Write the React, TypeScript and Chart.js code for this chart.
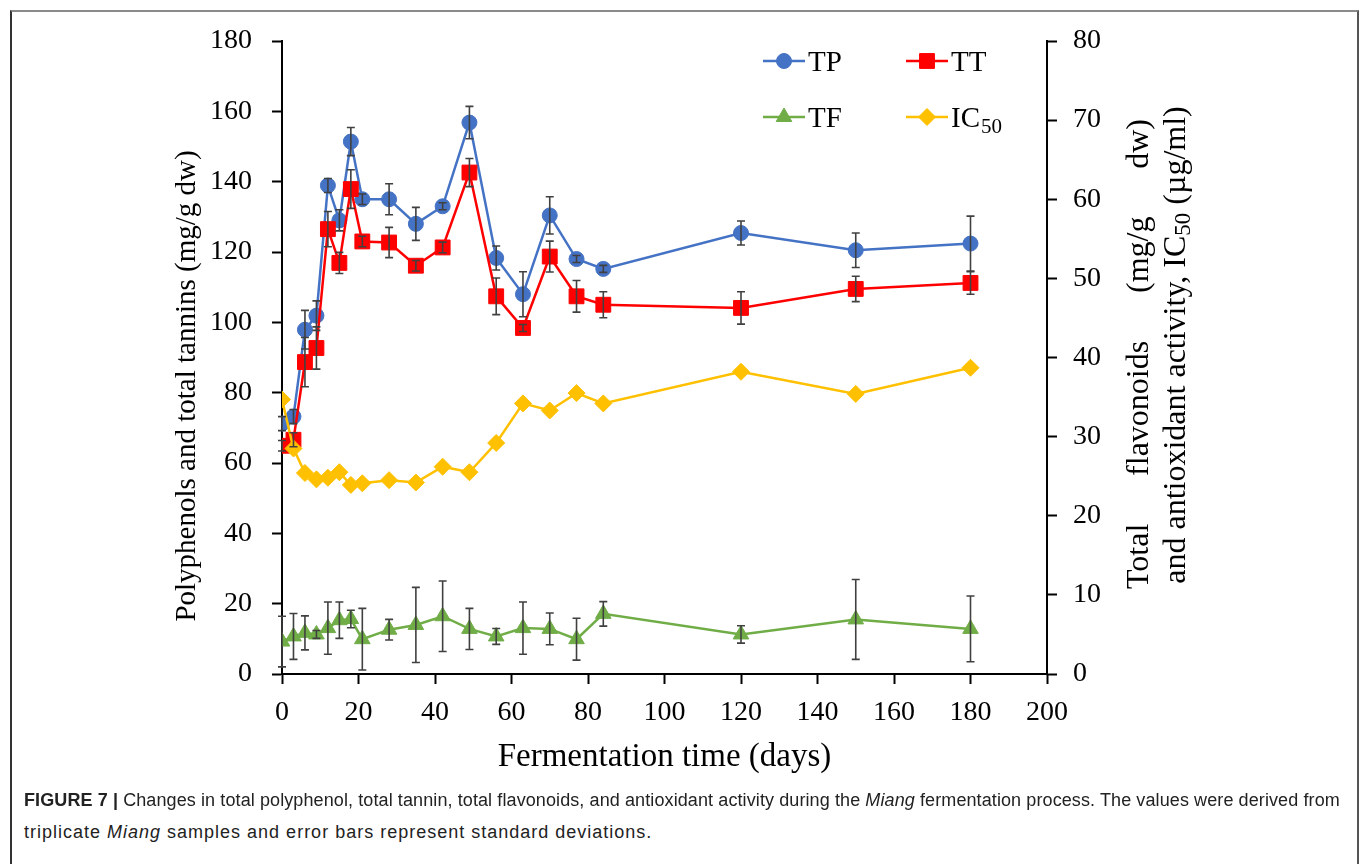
import React, { useEffect, useRef } from "react";
import { Chart, registerables } from "chart.js";
import { drawPoint } from "chart.js/helpers";
Chart.register(...registerables);

// ---- data ----
const days = [0, 3, 6, 9, 12, 15, 18, 21, 28, 35, 42, 49, 56, 63, 70, 77, 84, 120, 150, 180];
const tpValues = [71.2, 73.2, 97.9, 101.9, 138.9, 129.0, 151.4, 135.0, 135.0, 128.0, 133.0, 156.8, 118.3, 108.0, 130.4, 118.0, 115.2, 125.4, 120.5, 122.4];
const tpErrors = [2, 2, 5.5, 4.2, 2, 3, 4, 1.5, 4.4, 4.7, 1, 4.6, 3.4, 6.4, 5.3, 1, 1, 3.4, 4.9, 7.8];
const ttValues = [64.9, 66.6, 88.7, 92.7, 126.5, 116.9, 137.9, 123.0, 122.7, 116.1, 121.3, 142.6, 107.4, 98.4, 118.7, 107.4, 105.0, 104.1, 109.5, 111.2];
const ttErrors = [1.5, 2, 7, 6, 5, 3, 5.5, 1.5, 4.3, 1.5, 1.5, 4, 5.2, 1, 4.4, 4.5, 3.7, 4.6, 3.6, 3.2];
const tfValues = [4.1, 4.75, 5.2, 5.0, 5.8, 6.8, 6.95, 4.4, 5.6, 6.2, 7.3, 5.7, 4.75, 5.8, 5.7, 4.4, 7.6, 5.0, 6.9, 5.7];
const tfErrors = [3.2, 2.9, 2.15, 0.5, 3.3, 2.3, 1.1, 3.9, 1.3, 4.75, 4.45, 2.6, 1, 3.3, 2.0, 2.65, 1.55, 1.1, 5.05, 4.15];
const ic50Values = [34.7, 28.5, 25.4, 24.6, 24.8, 25.5, 23.9, 24.1, 24.5, 24.2, 26.2, 25.5, 29.2, 34.2, 33.3, 35.5, 34.2, 38.2, 35.4, 38.7];

const xTitle = "Fermentation time (days)";
const leftTitle = "Polyphenols and total tannins (mg/g dw)";
const rightTitle1Words = ["Total", "flavonoids", "(mg/g", "dw)"];
const rightTitle2Words = ["and", "antioxidant", "activity,", "IC|50", "(\u00b5g/ml)"];

const SERIF = "'Liberation Serif', 'Times New Roman', serif";

const COLORS = { tp: "#4472C4", tt: "#FF0000", tf: "#70AD47", ic: "#FFC000" };

const errorBarPlugin = {
  id: "errorBars",
  afterDatasetsDraw(chart: any) {
    const ctx = chart.ctx;
    ctx.save();
    ctx.strokeStyle = "#404040";
    ctx.lineWidth = 1.6;
    chart.data.datasets.forEach((ds: any, di: number) => {
      if (!ds.errors) return;
      const meta = chart.getDatasetMeta(di);
      const ys = chart.scales[meta.yAxisID];
      const xs = chart.scales[meta.xAxisID];
      ds.data.forEach((pt: any, i: number) => {
        const e = ds.errors[i];
        if (!e) return;
        const x = xs.getPixelForValue(pt.x);
        const y1 = ys.getPixelForValue(pt.y + e);
        const y2 = ys.getPixelForValue(pt.y - e);
        ctx.beginPath();
        ctx.moveTo(x, y1);
        ctx.lineTo(x, y2);
        ctx.moveTo(x - 4, y1);
        ctx.lineTo(x + 4, y1);
        ctx.moveTo(x - 4, y2);
        ctx.lineTo(x + 4, y2);
        ctx.stroke();
      });
    });
    ctx.restore();
  },
};

// draws words (rotated frame already set); if L given, spread words over L, else natural spacing; centered at 0
function drawWords(ctx: CanvasRenderingContext2D, words: string[], size: number, L?: number) {
  const big = `${size}px ${SERIF}`;
  const small = `${Math.round(size * 0.72)}px ${SERIF}`;
  ctx.font = big;
  const space = ctx.measureText(" ").width;
  const widths = words.map((w) => {
    if (w.includes("|")) {
      const [a, b] = w.split("|");
      ctx.font = big;
      const wa = ctx.measureText(a).width;
      ctx.font = small;
      return wa + ctx.measureText(b).width;
    }
    ctx.font = big;
    return ctx.measureText(w).width;
  });
  const total = widths.reduce((s, v) => s + v, 0);
  const len = L ?? total + space * (words.length - 1);
  const gap = (len - total) / (words.length - 1);
  let x = -len / 2;
  ctx.textAlign = "left";
  words.forEach((w, i) => {
    if (w.includes("|")) {
      const [a, b] = w.split("|");
      ctx.font = big;
      ctx.fillText(a, x, 0);
      const wa = ctx.measureText(a).width;
      ctx.font = small;
      ctx.fillText(b, x + wa, size * 0.22);
    } else {
      ctx.font = big;
      ctx.fillText(w, x, 0);
    }
    x += widths[i] + gap;
  });
}

const textPlugin = {
  id: "texts",
  afterDraw(chart: any) {
    const ctx = chart.ctx;
    const ca = chart.chartArea;
    ctx.save();
    ctx.fillStyle = "#000";
    // x title
    ctx.font = `33px ${SERIF}`;
    ctx.textAlign = "center";
    ctx.textBaseline = "middle";
    ctx.fillText(xTitle, (ca.left + ca.right) / 2, ca.bottom + 83);
    // left title
    ctx.save();
    ctx.translate(ca.left - 95, 386);
    ctx.rotate(-Math.PI / 2);
    ctx.font = `29px ${SERIF}`;
    ctx.fillText(leftTitle, 0, 0);
    ctx.restore();
    // right title line 1 (justified)
    ctx.save();
    ctx.translate(ca.right + 93, 354);
    ctx.rotate(-Math.PI / 2);
    drawWords(ctx, rightTitle1Words, 32, 470);
    ctx.restore();
    // right title line 2 (natural)
    ctx.save();
    ctx.translate(ca.right + 130, 345);
    ctx.rotate(-Math.PI / 2);
    drawWords(ctx, rightTitle2Words, 32);
    ctx.restore();

    // legend
    const entries = [
      { ds: 0, lx: 763, ly: 61 },
      { ds: 1, lx: 906, ly: 61 },
      { ds: 2, lx: 763, ly: 117 },
      { ds: 3, lx: 906, ly: 117 },
    ];
    entries.forEach((en) => {
      const ds: any = chart.data.datasets[en.ds];
      ctx.strokeStyle = ds.borderColor;
      ctx.lineWidth = 2.5;
      ctx.beginPath();
      ctx.moveTo(en.lx, en.ly);
      ctx.lineTo(en.lx + 42, en.ly);
      ctx.stroke();
      ctx.fillStyle = ds.backgroundColor;
      ctx.strokeStyle = ds.backgroundColor;
      ctx.lineWidth = 1;
      drawPoint(ctx, { pointStyle: ds.pointStyle, radius: ds.pointRadius, borderWidth: 1, rotation: 0 }, en.lx + 21, en.ly);
      ctx.fillStyle = "#000";
      ctx.textAlign = "left";
      ctx.textBaseline = "alphabetic";
      ctx.font = `29px ${SERIF}`;
      if (en.ds === 3) {
        ctx.fillText("IC", en.lx + 45, en.ly + 10);
        const w = ctx.measureText("IC").width;
        ctx.font = `21px ${SERIF}`;
        ctx.fillText("50", en.lx + 45 + w + 1, en.ly + 16);
      } else {
        ctx.fillText(ds.label, en.lx + 45, en.ly + 10);
      }
    });
    ctx.restore();
  },
};

export default function App() {
  const ref = useRef<HTMLCanvasElement | null>(null);
  useEffect(() => {
    if (!ref.current) return;
    const tickFont = { family: SERIF, size: 28 };
    const mk = (vals: number[]) => days.map((d, i) => ({ x: d, y: vals[i] }));
    const chart = new Chart(ref.current, {
      type: "line",
      data: {
        datasets: [
          { label: "TP", data: mk(tpValues), errors: tpErrors, yAxisID: "y", borderColor: COLORS.tp, backgroundColor: COLORS.tp, pointBackgroundColor: COLORS.tp, pointBorderColor: COLORS.tp, pointStyle: "circle", pointRadius: 7.5, pointBorderWidth: 1, borderWidth: 2.5, order: 4 } as any,
          { label: "TT", data: mk(ttValues), errors: ttErrors, yAxisID: "y", borderColor: COLORS.tt, backgroundColor: COLORS.tt, pointBackgroundColor: COLORS.tt, pointBorderColor: COLORS.tt, pointStyle: "rect", pointRadius: 10.5, pointBorderWidth: 1, borderWidth: 2.5, order: 3 } as any,
          { label: "TF", data: mk(tfValues), errors: tfErrors, yAxisID: "y2", borderColor: COLORS.tf, backgroundColor: COLORS.tf, pointBackgroundColor: COLORS.tf, pointBorderColor: COLORS.tf, pointStyle: "triangle", pointRadius: 9, pointBorderWidth: 1, borderWidth: 2.5, order: 2 } as any,
          { label: "IC50", data: mk(ic50Values), yAxisID: "y2", borderColor: COLORS.ic, backgroundColor: COLORS.ic, pointBackgroundColor: COLORS.ic, pointBorderColor: COLORS.ic, pointStyle: "rectRot", pointRadius: 8.5, pointBorderWidth: 1, borderWidth: 2.5, order: 1 } as any,
        ],
      },
      options: {
        animation: false,
        responsive: false,
        devicePixelRatio: 1,
        layout: { padding: { top: 41, left: 0, right: 0, bottom: 0 } },
        plugins: { legend: { display: false }, tooltip: { enabled: false } },
        scales: {
          x: {
            type: "linear",
            min: 0,
            max: 200,
            ticks: { stepSize: 20, font: tickFont, color: "#000", padding: 12, maxRotation: 0 },
            grid: { drawOnChartArea: false, drawTicks: true, tickLength: 10, tickWidth: 2, tickColor: "#000" },
            border: { display: true, color: "#000", width: 2 },
            afterFit: (s: any) => { s.height = 116; },
          },
          y: {
            position: "left",
            min: 0,
            max: 180,
            ticks: { stepSize: 20, font: tickFont, color: "#000", padding: 20 },
            grid: { drawOnChartArea: false, drawTicks: true, tickLength: 10, tickWidth: 2, tickColor: "#000" },
            border: { display: true, color: "#000", width: 2 },
            afterFit: (s: any) => { s.width = 282; },
          },
          y2: {
            position: "right",
            min: 0,
            max: 80,
            ticks: { stepSize: 10, font: tickFont, color: "#000", padding: 16 },
            grid: { drawOnChartArea: false, drawTicks: true, tickLength: 10, tickWidth: 2, tickColor: "#000" },
            border: { display: true, color: "#000", width: 2 },
            afterFit: (s: any) => { s.width = 313; },
          },
        },
      } as any,
      plugins: [errorBarPlugin, textPlugin],
    });
    return () => chart.destroy();
  }, []);

  const capStyle: React.CSSProperties = {
    position: "absolute",
    left: 24,
    whiteSpace: "nowrap",
    fontFamily: "'Liberation Sans', Arial, sans-serif",
    fontSize: 18,
    lineHeight: "32px",
    color: "#222",
  };

  return (
    <div style={{ position: "absolute", left: 0, top: 0, width: 1360, height: 864, overflow: "hidden", background: "#fff" }}>
      <div style={{ position: "absolute", left: 10, top: 10, width: 1345, height: 900, borderTop: "2px solid #8a8a8a", borderLeft: "2px solid #333", borderRight: "2px solid #555" }} />
      <canvas ref={ref} width={1360} height={790} style={{ position: "absolute", left: 0, top: 0, width: 1360, height: 790 }} />
      <div style={{ ...capStyle, top: 784, letterSpacing: "0.1px" }}>
        <b>FIGURE 7 |</b> Changes in total polyphenol, total tannin, total flavonoids, and antioxidant activity during the <i>Miang</i> fermentation process. The values were derived from
      </div>
      <div style={{ ...capStyle, top: 816, letterSpacing: "1px" }}>
        triplicate <i>Miang</i> samples and error bars represent standard deviations.
      </div>
    </div>
  );
}
